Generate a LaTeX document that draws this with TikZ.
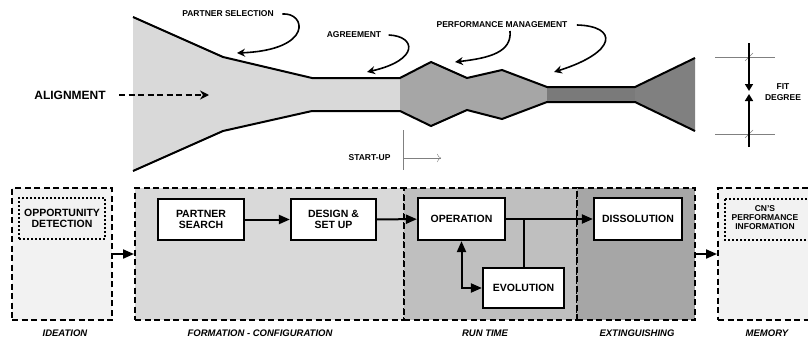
\documentclass[tikz,border=0pt]{standalone}
\usepackage{fontspec}
\setmainfont{Liberation Sans}
\usetikzlibrary{arrows.meta,positioning}

\definecolor{shadeA}{HTML}{F2F2F2}
\definecolor{shadeB}{HTML}{D9D9D9}
\definecolor{shadeC}{HTML}{BFBFBF}
\definecolor{shadeD}{HTML}{A6A6A6}
\definecolor{shadeE}{HTML}{808080}

\tikzset{
  lbl/.style={font=\fontsize{8.5}{11}\selectfont\bfseries},
  phase/.style={draw,line width=2pt,dash pattern=on 6pt off 3.5pt},
  dotbox/.style={draw,line width=2pt,dash pattern=on 2pt off 2pt},
  task/.style={draw,line width=2.2pt,fill=white,align=center,
    font=\fontsize{10.5}{11.5}\selectfont\bfseries},
  flow/.style={line width=2pt,-{Triangle[length=11pt,width=9pt]}},
  note/.style={line width=1.6pt,-{Stealth[length=8pt,width=8pt]}},
  stage/.style={font=\fontsize{9.5}{11}\selectfont\bfseries\itshape},
}

\begin{document}
\begin{tikzpicture}[x=1pt,y=-1pt]
  \clip (0,0) rectangle (808,340);

  % funnel
  \fill[shadeB] (133,17) -- (223,57) -- (312,78) -- (400,78) -- (400,111) -- (312,111) -- (223,131) -- (133,171) -- cycle;
  \fill[shadeD] (400,78) -- (431,62) -- (467,78) -- (502,70) -- (547,87) -- (547,102) -- (502,119) -- (467,110) -- (431,126) -- (400,111) -- cycle;
  \fill[shadeE!95!black] (547,87) rectangle (635,102);
  \fill[shadeE] (635,87) -- (695,58) -- (695,131) -- (635,102) -- cycle;
  \draw[line width=2pt] (133,17) -- (223,57) -- (312,78) -- (400,78) -- (431,62) -- (467,78) -- (502,70) -- (547,87) -- (635,87) -- (695,58);
  \draw[line width=2pt] (133,171) -- (223,131) -- (312,111) -- (400,111) -- (431,126) -- (467,110) -- (502,119) -- (547,102) -- (635,102) -- (695,131);

  \node[font=\fontsize{12}{13}\selectfont\bfseries] (align) at (70,95) {ALIGNMENT};
  \coordinate (alignTip) at (209,95);
  \draw[line width=2pt,dash pattern=on 6pt off 3.5pt,-{Stealth[length=9pt,width=9pt]}] ([xshift=10pt]align.east) -- (alignTip);

  \node[lbl] (psel) at (228,14) {PARTNER SELECTION};
  \coordinate (pselTip) at (237,53);
  \draw[note] ([xshift=5pt]psel.east) .. controls (306,12) and (314,50) .. (pselTip);

  \node[lbl] (agree) at (354,35) {AGREEMENT};
  \coordinate (agreeTip) at (367,72);
  \draw[note] ([xshift=4pt]agree.east) .. controls (416,36) and (420,60) .. (agreeTip);

  \node[lbl] (perf) at (502,25) {PERFORMANCE MANAGEMENT};
  \coordinate (perfTipA) at (455,62);
  \coordinate (perfTipB) at (554,72);
  \draw[note] (510,31) .. controls (512,52) and (490,58) .. (perfTipA);
  \draw[note] ([xshift=6pt]perf.east) .. controls (618,26) and (618,52) .. (perfTipB);

  \node[lbl,anchor=east] (start) at (394,158) {START-UP};
  \coordinate (startTop) at (403,130);
  \coordinate (startEnd) at (441,158);
  \draw[gray,thin] (startTop) -- (403,170);
  \draw[gray,thin,-{To[length=4pt]}] (403,158) -- (startEnd);

  \coordinate (fitTop) at (749,43);
  \coordinate (fitBot) at (749,147);
  \draw[gray,thin] (715,57) -- (775,57) (715,134) -- (775,134);
  \draw[gray,thin] (745,61) -- (753,53) (745,138) -- (753,130);
  \draw[line width=1.6pt,-{Triangle[length=7pt,width=8pt]}] (fitTop) -- (749,91);
  \draw[line width=1.6pt,-{Triangle[length=7pt,width=8pt]}] (fitBot) -- (749,94);
  \node[lbl,align=center] (fit) at (783,92.5) {FIT\\DEGREE};

  % phases
  \node[phase,fill=shadeA,minimum width=100,minimum height=132] (idea) at (62,254) {};
  \node[phase,fill=shadeB,minimum width=269,minimum height=132] (form) at (269.5,254) {};
  \node[phase,fill=shadeC,minimum width=173,minimum height=132] (run) at (490.5,254) {};
  \node[phase,fill=shadeD,minimum width=118,minimum height=132] (ext) at (636,254) {};
  \node[phase,fill=shadeA,minimum width=112,minimum height=132] (mem) at (774,254) {};

  \node[dotbox,align=center,font=\fontsize{10.5}{11.5}\selectfont\bfseries,minimum width=86,minimum height=41] (opp) at (62,218.5) {OPPORTUNITY\\DETECTION};
  \draw[dotbox] (725,199) rectangle (815,240);
  \node[align=center,font=\fontsize{8.5}{9}\selectfont\bfseries] (cninfo) at (765,218) {CN'S\\PERFORMANCE\\INFORMATION};

  \node[task,minimum width=86,minimum height=41] (search) at (201,219.5) {PARTNER\\SEARCH};
  \node[task,minimum width=85,minimum height=41] (design) at (333.5,219.5) {DESIGN \&\\SET UP};
  \node[task,minimum width=87,minimum height=42] (oper) at (461.5,219) {OPERATION};
  \node[task,minimum width=81,minimum height=40] (evol) at (523.5,288) {EVOLUTION};
  \node[task,minimum width=88,minimum height=42] (diss) at (638,219) {DISSOLUTION};

  \draw[flow] (idea.east) -- (form.west);
  \draw[flow] (ext.east) -- (mem.west);
  \draw[flow] (search) -- (design);
  \draw[flow] (design) -- (oper);
  \draw[flow] (oper) -- (diss);
  \draw[line width=2pt] (evol.north) -- (evol.north |- oper.east);
  \draw[flow,{Triangle[length=11pt,width=9pt]}-{Triangle[length=11pt,width=9pt]}] (oper.south) |- (evol.west);

  \node[stage] (ideaLbl) at (65,333) {IDEATION};
  \node[stage] (formLbl) at (260,333) {FORMATION - CONFIGURATION};
  \node[stage] (runLbl) at (485,333) {RUN TIME};
  \node[stage] (extLbl) at (637,333) {EXTINGUISHING};
  \node[stage] (memLbl) at (767,333) {MEMORY};
\end{tikzpicture}
\end{document}
